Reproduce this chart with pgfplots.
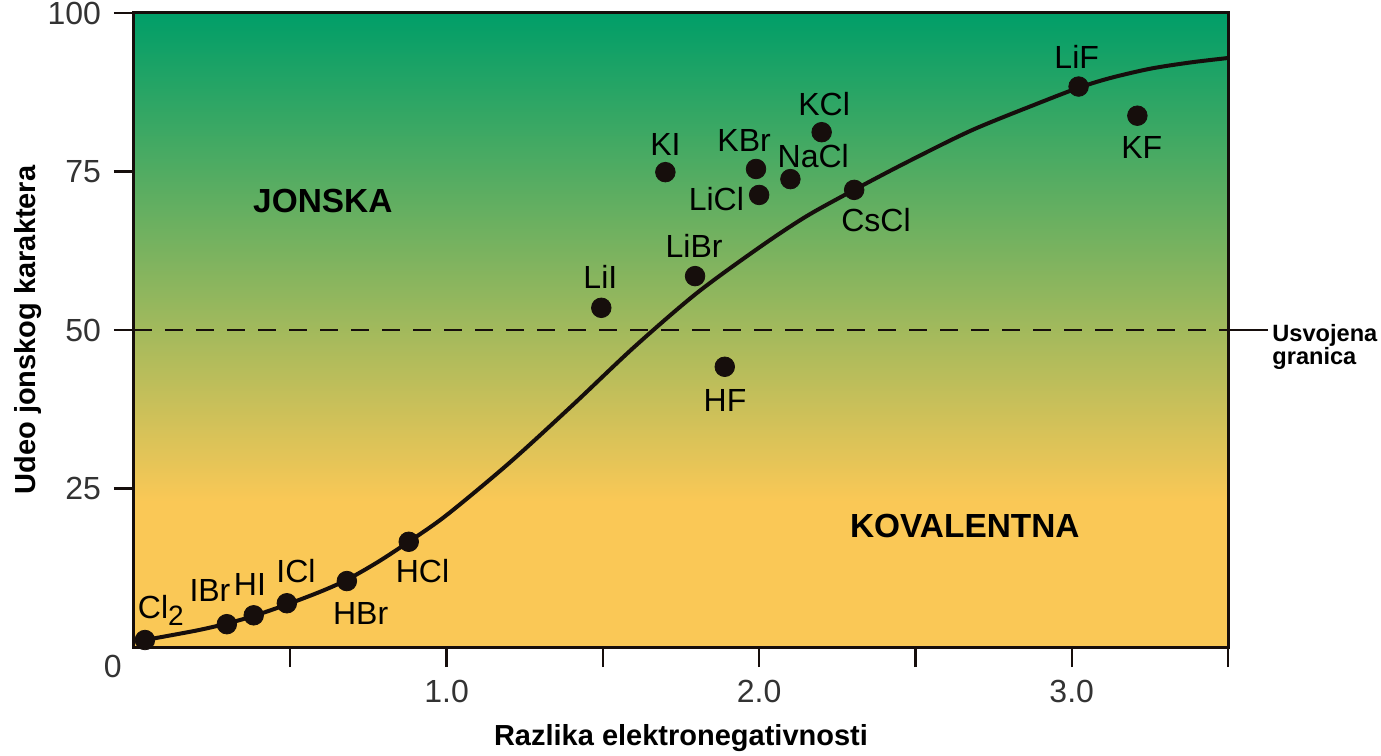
\documentclass[border=0pt]{standalone}
\usepackage{pgfplots}
\pgfplotsset{compat=1.18}
\usepackage{fontspec}
\setmainfont{Liberation Sans}
\definecolor{topgreen}{RGB}{0,158,104}
\definecolor{yel}{RGB}{250,200,86}
\definecolor{ink}{RGB}{22,14,12}
\tikzset{
  lbl/.style={anchor=base, font=\fontsize{16}{18}\selectfont, text=black, inner sep=0pt},
  big/.style={anchor=base, font=\bfseries\fontsize{16.7}{20}\selectfont, text=black, inner sep=0pt},
}
\begin{document}
\begin{tikzpicture}
\begin{axis}[
  scale only axis, width=547pt, height=317pt,
  xmin=0, xmax=3.5, ymin=0, ymax=100,
  axis on top, clip=false,
  axis line style={line width=1.5pt, ink},
  xtick={0.5,1,1.5,2,2.5,3,3.5}, xticklabels={,1.0,,2.0,,3.0,},
  ytick={25,50,75,100},
  tick align=outside, xtick pos=bottom, ytick pos=left,
  major tick length=10pt,
  tick style={line width=1.1pt, ink},
  ticklabel style={font=\fontsize{16}{18}\selectfont, text=black!80},
  yticklabel style={xshift=-3pt},
  xticklabel style={yshift=-3pt},
  /pgf/number format/assume math mode=true,
  xlabel={Razlika elektronegativnosti},
  ylabel={Udeo jonskog karaktera},
  label style={font=\bfseries\fontsize{14.5}{17}\selectfont},
  xlabel style={at={(axis description cs:0.5,0)}, anchor=base, yshift=-49pt},
  ylabel style={at={([xshift=-53pt]axis description cs:0,0.5)}, anchor=center},
]
% background
\fill[yel] (axis cs:0,0) rectangle (axis cs:3.5,23.5);
\fill[top color=topgreen, bottom color=yel] (axis cs:0,23) rectangle (axis cs:3.5,100);
% adopted boundary
\draw[dash pattern=on 9pt off 6.5pt, line width=1pt, ink] (axis cs:0,50) -- (axis cs:3.5,50);
\draw[line width=0.6pt, ink] (axis cs:3.5,50) -- ++(20pt,0);
% curve
\addplot[ink, line width=2pt, smooth] coordinates {
(0.035,1.1) (0.2,2.6) (0.297,3.7) (0.383,4.9) (0.489,6.7) (0.6,8.8) (0.681,10.6)
(0.78,13.4) (0.879,16.6) (1.0,20.8) (1.2,29.0) (1.4,38.0) (1.6,47.3) (1.8,55.8)
(2.0,63.0) (2.15,67.9) (2.304,72.1) (2.47,76.4) (2.68,81.5) (2.895,85.8) (3.022,88.2)
(3.12,89.7) (3.25,91.2) (3.38,92.2) (3.5,92.9)};
% points
\addplot[only marks, mark=*, mark size=4.9pt, color=ink] coordinates {
(0.035,1.1) (0.297,3.6) (0.383,5.0) (0.489,6.9) (0.681,10.4) (0.879,16.6)
(1.495,53.5) (1.795,58.5) (1.70,74.9) (1.99,75.4) (2.00,71.3) (2.10,73.8)
(2.20,81.2) (2.304,72.1) (1.89,44.2) (3.022,88.4) (3.21,83.8)};
% labels
\node[lbl] at (axis cs:0.086,4.57) {Cl\raisebox{-3.5pt}{\fontsize{14}{15}\selectfont 2}};
\node[lbl] at (axis cs:0.243,7.1) {IBr};
\node[lbl] at (axis cs:0.371,8.2) {HI};
\node[lbl] at (axis cs:0.518,10.1) {ICl};
\node[lbl] at (axis cs:0.725,3.5) {HBr};
\node[lbl] at (axis cs:0.923,10.1) {HCl};
\node[lbl] at (axis cs:1.492,56.6) {LiI};
\node[lbl] at (axis cs:1.792,61.4) {LiBr};
\node[lbl] at (axis cs:1.700,77.6) {KI};
\node[lbl] at (axis cs:1.952,78.1) {KBr};
\node[lbl] at (axis cs:2.173,75.7) {NaCl};
\node[lbl] at (axis cs:1.863,68.9) {LiCl};
\node[lbl] at (axis cs:2.208,83.9) {KCl};
\node[lbl] at (axis cs:2.374,65.5) {CsCl};
\node[lbl] at (axis cs:1.891,37.2) {HF};
\node[lbl] at (axis cs:3.016,91.3) {LiF};
\node[lbl] at (axis cs:3.224,77.1) {KF};
\node[big] at (axis cs:0.604,68.5) {JONSKA};
\node[big] at (axis cs:2.658,17.35) {KOVALENTNA};
\node[anchor=base west, inner sep=0pt, font=\bfseries\fontsize{11.8}{14}\selectfont] at ([xshift=22pt,yshift=-6pt]axis cs:3.5,50) {Usvojena};
\node[anchor=base west, inner sep=0pt, font=\bfseries\fontsize{11.8}{14}\selectfont] at ([xshift=22pt,yshift=-17.5pt]axis cs:3.5,50) {granica};
\node[anchor=base east, inner sep=0pt, font=\fontsize{16}{18}\selectfont, text=black!80] at ([xshift=-6pt,yshift=-15pt]axis cs:0,0) {0};
\end{axis}
\pgfresetboundingbox
\path ([xshift=-67pt,yshift=-54pt]current axis.south west) rectangle ([xshift=76.5pt,yshift=6.5pt]current axis.north east);
\end{tikzpicture}
\end{document}
